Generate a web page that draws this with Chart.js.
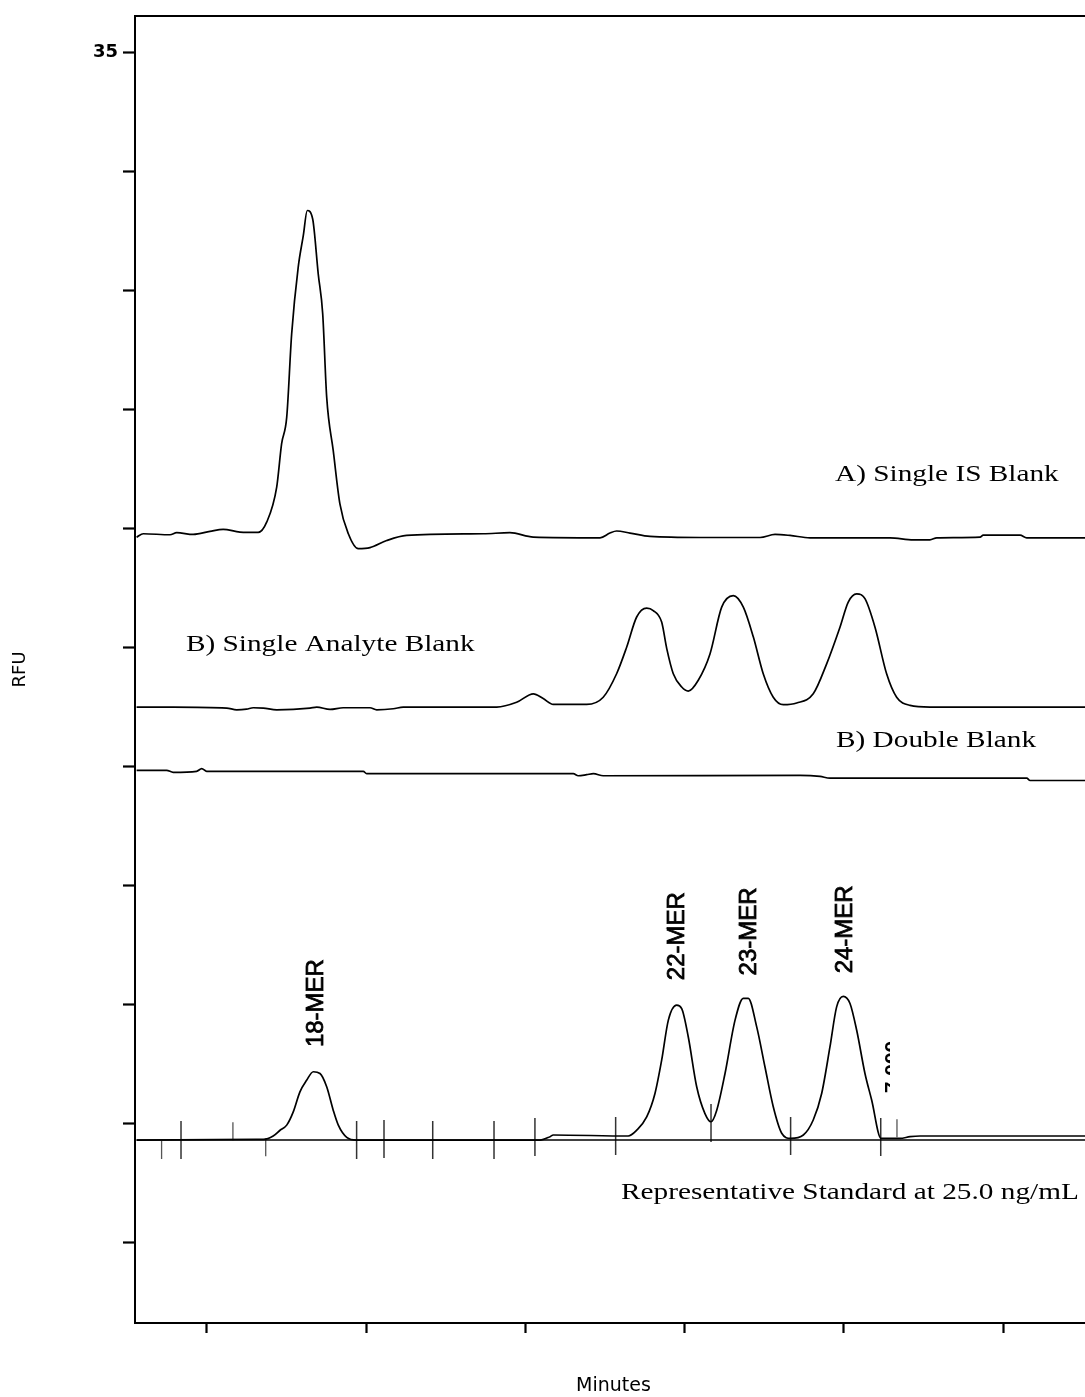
<!DOCTYPE html>
<html>
<head>
<meta charset="utf-8">
<script src="https://cdn.jsdelivr.net/npm/chart.js@4.4.1/dist/chart.umd.min.js"></script>
<style>
  html, body { margin: 0; padding: 0; background: #fff; }
  #wrap { width: 1085px; height: 1397px; overflow: hidden; position: relative; }
  canvas { display: block; }
</style>
</head>
<body>
<div id="wrap"><canvas id="c" width="1100" height="1397"></canvas></div>
<script>
// ---- axis ticks ----
const xTickValues = [1, 2, 3, 4, 5, 6];
const yTickValues = [0, 3.5, 7, 10.5, 14, 17.5, 21, 24.5, 28, 31.5, 35];
const yTickLabels = ['', '', '', '', '', '', '', '', '', '', '35'];

// ---- trace A: Single IS Blank ----
const timeA = [0.558, 0.600, 0.768, 0.810, 0.914, 1.019, 1.102, 1.207, 1.322, 1.375, 1.438, 1.469, 1.501, 1.532, 1.573, 1.605, 1.630, 1.664, 1.699, 1.727, 1.752, 1.793, 1.835, 1.888, 1.950, 2.024, 2.129, 2.254, 2.736, 2.903, 3.050, 3.469, 3.531, 3.573, 3.657, 3.783, 4.097, 4.474, 4.568, 4.662, 4.788, 5.290, 5.437, 5.541, 5.584, 5.856, 5.876, 6.107, 6.149, 6.547];
const rfuA  = [20.74, 20.84, 20.81, 20.87, 20.82, 20.91, 20.97, 20.89, 20.88, 21.18, 22.21, 23.49, 24.27, 26.72, 28.68, 29.61, 30.35, 30.10, 28.48, 27.31, 24.86, 23.29, 21.72, 20.84, 20.40, 20.43, 20.64, 20.79, 20.84, 20.87, 20.74, 20.72, 20.86, 20.92, 20.86, 20.76, 20.73, 20.73, 20.82, 20.79, 20.72, 20.72, 20.66, 20.66, 20.72, 20.74, 20.80, 20.80, 20.72, 20.72];

// ---- trace B: Single Analyte Blank ----
const timeB = [0.558, 0.788, 1.124, 1.187, 1.249, 1.291, 1.354, 1.438, 1.647, 1.689, 1.773, 1.856, 2.024, 2.066, 2.170, 2.233, 2.820, 2.945, 3.050, 3.112, 3.175, 3.385, 3.489, 3.573, 3.636, 3.699, 3.762, 3.803, 3.856, 3.888, 3.929, 3.982, 4.023, 4.086, 4.160, 4.233, 4.306, 4.369, 4.432, 4.494, 4.557, 4.620, 4.704, 4.808, 4.893, 4.976, 5.028, 5.081, 5.133, 5.196, 5.269, 5.332, 5.416, 5.541, 6.547];
const rfuB  = [15.74, 15.74, 15.71, 15.66, 15.68, 15.72, 15.71, 15.66, 15.71, 15.74, 15.67, 15.72, 15.72, 15.66, 15.69, 15.74, 15.74, 15.88, 16.13, 15.99, 15.82, 15.82, 16.03, 16.72, 17.50, 18.39, 18.65, 18.58, 18.24, 17.46, 16.72, 16.33, 16.21, 16.53, 17.31, 18.68, 19.02, 18.68, 17.80, 16.72, 16.03, 15.81, 15.86, 16.13, 17.02, 18.09, 18.83, 19.07, 18.93, 18.09, 16.72, 16.03, 15.79, 15.74, 15.74];

// ---- trace C: Double Blank ----
const timeC = [0.558, 0.747, 0.788, 0.935, 0.967, 0.998, 1.982, 2.003, 3.301, 3.332, 3.385, 3.427, 3.489, 4.725, 4.851, 4.913, 6.149, 6.170, 6.547];
const rfuC  = [13.88, 13.88, 13.82, 13.85, 13.93, 13.85, 13.85, 13.78, 13.78, 13.72, 13.75, 13.78, 13.72, 13.73, 13.70, 13.65, 13.65, 13.58, 13.58];

// ---- trace D: Representative Standard at 25.0 ng/mL ----
const timeD = [0.558, 1.312, 1.354, 1.416, 1.459, 1.501, 1.542, 1.584, 1.626, 1.668, 1.710, 1.752, 1.793, 1.825, 1.878, 1.940, 3.092, 3.155, 3.175, 3.646, 3.699, 3.762, 3.814, 3.856, 3.898, 3.950, 3.982, 4.023, 4.076, 4.128, 4.166, 4.202, 4.254, 4.317, 4.369, 4.400, 4.453, 4.505, 4.557, 4.610, 4.666, 4.746, 4.808, 4.861, 4.913, 4.955, 4.997, 5.039, 5.081, 5.133, 5.175, 5.234, 5.353, 5.416, 5.479, 6.547];
const rfuD  = [3.00, 3.02, 3.02, 3.12, 3.29, 3.44, 3.83, 4.42, 4.76, 5.01, 4.96, 4.57, 3.88, 3.44, 3.08, 3.00, 3.00, 3.10, 3.15, 3.12, 3.29, 3.68, 4.37, 5.35, 6.53, 6.97, 6.87, 6.04, 4.57, 3.78, 3.54, 3.88, 4.96, 6.53, 7.17, 7.17, 6.33, 5.15, 3.98, 3.20, 3.05, 3.15, 3.59, 4.37, 5.74, 6.92, 7.23, 7.02, 6.23, 4.96, 4.18, 3.05, 3.05, 3.10, 3.12, 3.12];

// integration baseline of the standard trace
const baseTime = [0.558, 6.547];
const baseRfu  = [3.00, 3.00];

// integration event markers
const eventTimeLong  = [0.837, 1.940, 2.112, 2.418, 2.803, 3.060, 3.567, 4.166, 4.666, 5.232];
const eventRfuLong   = [3.00, 3.00, 3.03, 3.00, 3.00, 3.09, 3.12, 3.50, 3.12, 3.09];
const eventTimeShort = [0.715, 1.163, 1.369, 5.334];
const eventRfuShort  = [2.71, 3.26, 2.79, 3.35];

// peak labels
const peakNames  = ['18-MER', '22-MER', '23-MER', '24-MER'];
const peakTime   = [1.685, 3.955, 4.405, 5.008];
const peakRfu    = [7.03, 9.00, 9.14, 9.20];
const cutLabel   = '7.000';
const cutTime    = 5.296;
const cutRfu     = 5.15;

// trace captions
const captions    = ['A) Single IS Blank', 'B) Single Analyte Blank', 'B) Double Blank', 'Representative Standard at 25.0 ng/mL'];
const captionTime = [4.945, 0.868, 4.951, 3.601];
const captionRfu  = [22.38, 17.39, 14.58, 1.26];

const pts = (xs, ys) => xs.map((x, i) => ({x: x, y: ys[i]}));

const traceStyle = {borderColor: '#000', borderWidth: 1.7, pointRadius: 0, cubicInterpolationMode: 'monotone', fill: false};

const textPlugin = {
  id: 'texts',
  afterDatasetsDraw(chart) {
    const {ctx, scales: {x, y}} = chart;
    ctx.save();
    ctx.fillStyle = '#000';
    ctx.strokeStyle = '#000';
    // captions (serif)
    ctx.font = '24px "Liberation Serif", "Times New Roman", serif';
    ctx.textAlign = 'left';
    ctx.textBaseline = 'alphabetic';
    captions.forEach((t, i) => {
      ctx.save();
      ctx.translate(x.getPixelForValue(captionTime[i]), y.getPixelForValue(captionRfu[i]));
      ctx.scale(1.22, 1);
      ctx.fillText(t, 0, 0);
      ctx.restore();
    });
    // peak labels (rotated)
    ctx.font = '24px "Liberation Sans", Arial, sans-serif';
    ctx.textAlign = 'center';
    ctx.textBaseline = 'middle';
    ctx.lineWidth = 0.8;
    peakNames.forEach((t, i) => {
      ctx.save();
      ctx.translate(x.getPixelForValue(peakTime[i]), y.getPixelForValue(peakRfu[i]));
      ctx.rotate(-Math.PI / 2);
      ctx.fillText(t, 0, 0);
      ctx.strokeText(t, 0, 0);
      ctx.restore();
    });
    // clipped label (only the top part of the glyphs is visible)
    const cx = x.getPixelForValue(cutTime), cy = y.getPixelForValue(cutRfu);
    ctx.save();
    ctx.beginPath();
    ctx.rect(cx - 20, cy - 40, 19, 80);
    ctx.clip();
    ctx.translate(cx + 8, cy);
    ctx.rotate(-Math.PI / 2);
    ctx.textAlign = 'center';
    ctx.textBaseline = 'alphabetic';
    ctx.font = 'bold 21px "Liberation Sans", Arial, sans-serif';
    ctx.fillText(cutLabel, 0, 0);
    ctx.restore();
    ctx.restore();
  }
};

new Chart(document.getElementById('c'), {
  type: 'line',
  data: {
    datasets: [
      Object.assign({label: 'A', data: pts(timeA, rfuA)}, traceStyle),
      Object.assign({label: 'B', data: pts(timeB, rfuB)}, traceStyle),
      Object.assign({label: 'C', data: pts(timeC, rfuC)}, traceStyle),
      Object.assign({label: 'D', data: pts(timeD, rfuD)}, traceStyle),
      {label: 'base', data: pts(baseTime, baseRfu), borderColor: '#000', borderWidth: 1.5, pointRadius: 0, tension: 0},
      {label: 'evL', type: 'scatter', data: pts(eventTimeLong, eventRfuLong), showLine: false,
       pointStyle: 'line', rotation: 90, pointRadius: 19, borderColor: '#333', borderWidth: 1.5, backgroundColor: '#333'},
      {label: 'evS', type: 'scatter', data: pts(eventTimeShort, eventRfuShort), showLine: false,
       pointStyle: 'line', rotation: 90, pointRadius: 9, borderColor: '#555', borderWidth: 1.3, backgroundColor: '#555'}
    ]
  },
  options: {
    responsive: false,
    animation: false,
    devicePixelRatio: 1,
    layout: {autoPadding: false, padding: {left: 0, right: 8, top: 0, bottom: 0}},
    plugins: {legend: {display: false}, tooltip: {enabled: false}},
    elements: {point: {hitRadius: 0}},
    scales: {
      x: {
        type: 'linear', position: 'bottom', min: 0.548, max: 6.559,
        afterBuildTicks: s => { s.ticks = xTickValues.map(v => ({value: v})); },
        afterFit: s => { s.height = 74; },
        ticks: {display: false},
        grid: {display: true, drawOnChartArea: false, drawTicks: true, tickLength: 10, tickWidth: 2.2, tickColor: '#000'},
        border: {display: true, color: '#000', width: 2},
        title: {display: true, text: 'Minutes', color: '#000', font: {family: '"DejaVu Sans", sans-serif', size: 19}, padding: {top: 0, bottom: 0}}
      },
      x2: {
        type: 'linear', position: 'top', min: 0.548, max: 6.559,
        afterFit: s => { s.height = 15; },
        ticks: {display: false},
        grid: {display: true, drawOnChartArea: false, drawTicks: false},
        border: {display: true, color: '#000', width: 2}
      },
      y: {
        type: 'linear', position: 'left', min: -2.382, max: 36.079,
        afterBuildTicks: s => { s.ticks = yTickValues.map(v => ({value: v})); },
        afterFit: s => { s.width = 135; },
        ticks: {
          callback: (v, i) => yTickLabels[i],
          color: '#000', padding: 5,
          font: {family: '"DejaVu Sans", sans-serif', size: 18, weight: 'bold'}
        },
        grid: {display: true, drawOnChartArea: false, drawTicks: true, tickLength: 12, tickWidth: 2.2, tickColor: '#000'},
        border: {display: true, color: '#000', width: 2},
        title: {display: true, text: 'RFU', color: '#000', font: {family: '"DejaVu Sans", sans-serif', size: 18}, padding: {top: 10, bottom: 0}}
      }
    }
  },
  plugins: [textPlugin]
});
</script>
</body>
</html>
